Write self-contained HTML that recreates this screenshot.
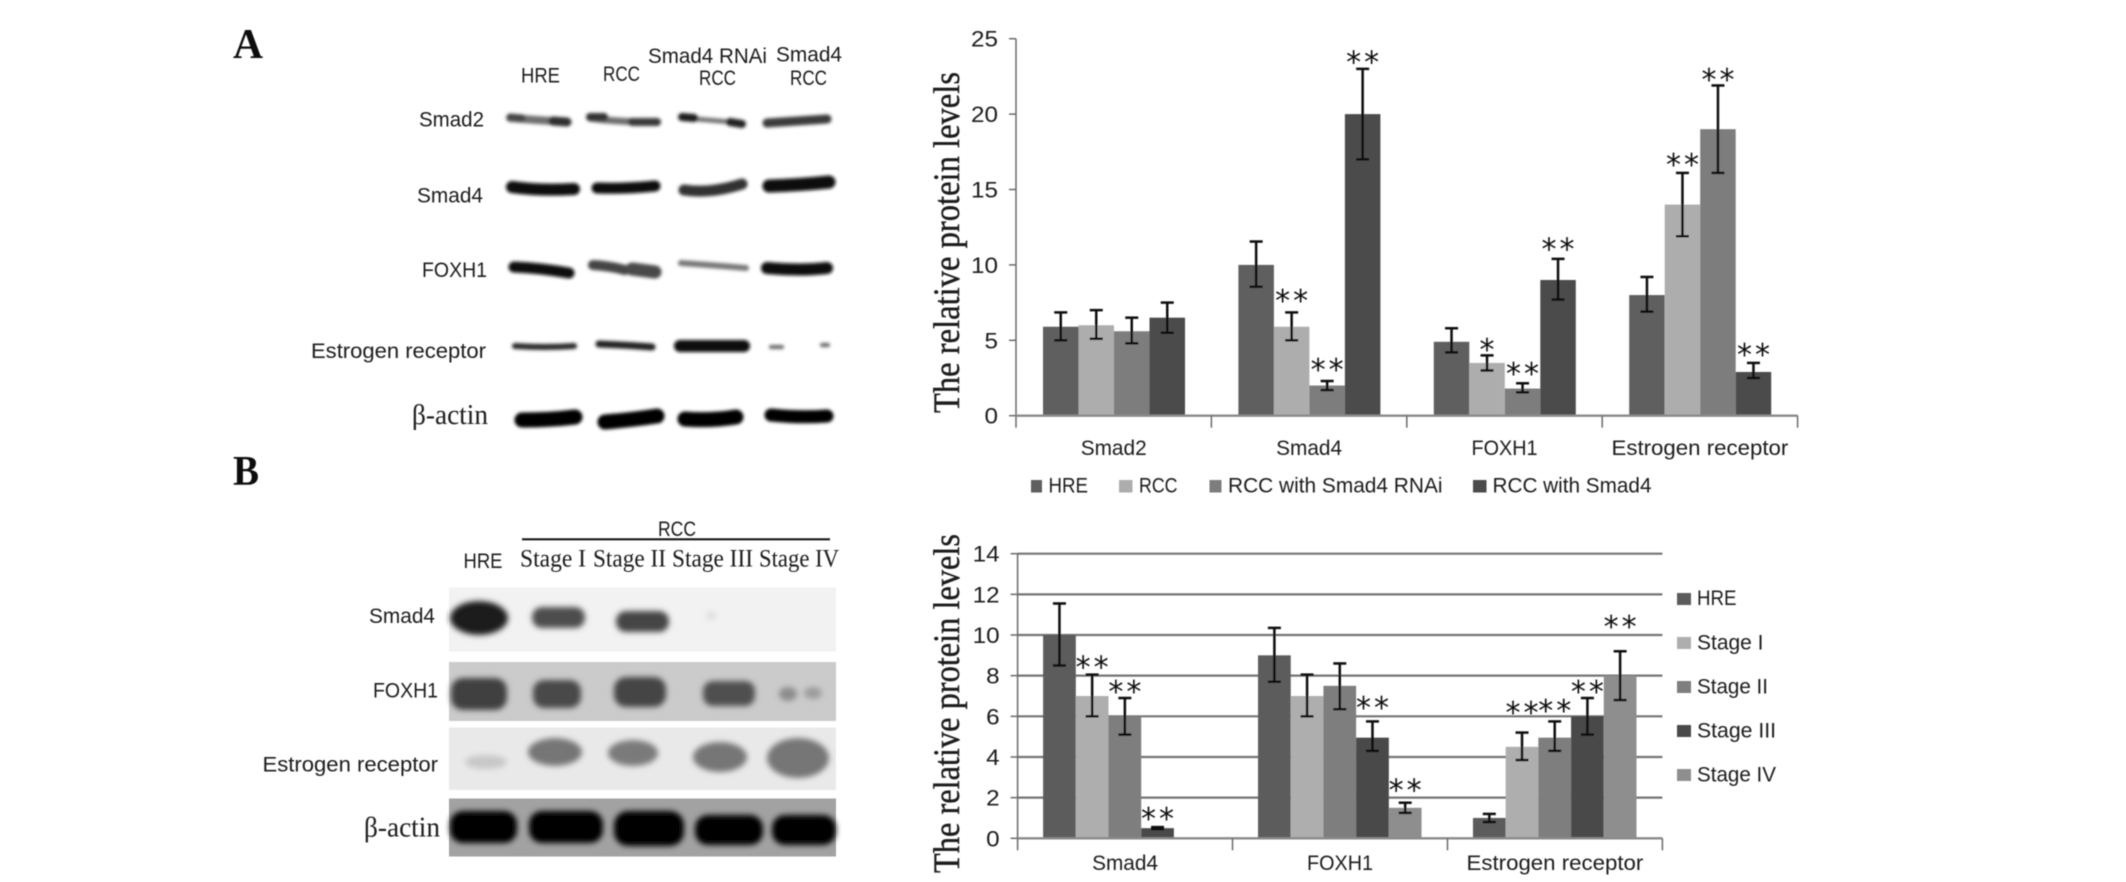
<!DOCTYPE html>
<html>
<head>
<meta charset="utf-8">
<title>Relative protein levels</title>
<style>
html,body{margin:0;padding:0;background:#fff;width:2126px;height:882px;overflow:hidden}
svg{display:block}
.sans{font-family:"Liberation Sans",sans-serif;fill:#1c1c1c}
.serif{font-family:"Liberation Serif",serif;fill:#1c1c1c}
</style>
</head>
<body>
<svg id="figure" xmlns="http://www.w3.org/2000/svg" width="2126" height="882" viewBox="0 0 2126 882">
<defs>
<filter id="soft" filterUnits="userSpaceOnUse" x="0" y="0" width="2126" height="882"><feGaussianBlur stdDeviation="0.5"/></filter>
<filter id="b1" filterUnits="userSpaceOnUse" x="0" y="0" width="2126" height="882"><feGaussianBlur stdDeviation="1.7"/></filter>
<filter id="b2" filterUnits="userSpaceOnUse" x="0" y="0" width="2126" height="882"><feGaussianBlur stdDeviation="3"/></filter>
</defs>
<rect x="0" y="0" width="2126" height="882" fill="#fff"/>
<g id="root" filter="url(#soft)">

<text class="serif" x="233" y="58" font-size="42" font-weight="bold" textLength="30" lengthAdjust="spacingAndGlyphs" style="fill:#111">A</text>
<text class="serif" x="233" y="485" font-size="42" font-weight="bold" textLength="26" lengthAdjust="spacingAndGlyphs" style="fill:#111">B</text>

<g class="sans" font-size="21">
<text x="521" y="82.5" textLength="39" lengthAdjust="spacingAndGlyphs">HRE</text>
<text x="603" y="81" textLength="37" lengthAdjust="spacingAndGlyphs">RCC</text>
<text x="648" y="63" textLength="119" lengthAdjust="spacingAndGlyphs">Smad4 RNAi</text>
<text x="699" y="85" textLength="37" lengthAdjust="spacingAndGlyphs">RCC</text>
<text x="776" y="61.5" textLength="66" lengthAdjust="spacingAndGlyphs">Smad4</text>
<text x="790" y="85" textLength="37" lengthAdjust="spacingAndGlyphs">RCC</text>
</g>
<g class="sans" font-size="21">
<text x="419" y="126.5" textLength="65" lengthAdjust="spacingAndGlyphs">Smad2</text>
<text x="417" y="202.5" textLength="66" lengthAdjust="spacingAndGlyphs">Smad4</text>
<text x="422" y="277" textLength="65" lengthAdjust="spacingAndGlyphs">FOXH1</text>
<text x="311" y="358" textLength="175" lengthAdjust="spacingAndGlyphs">Estrogen receptor</text>
<text class="serif" x="412" y="424" font-size="29" textLength="76" lengthAdjust="spacingAndGlyphs">β-actin</text>
</g>

<g fill="none" stroke-linecap="round">
<g filter="url(#b1)">
<g>
<path d="M510 118 Q535 120 567 122" stroke="#707070" stroke-width="8"/>
<path d="M510 117 L522 118" stroke="#444" stroke-width="7"/>
<path d="M553 121 L567 122" stroke="#2f2f2f" stroke-width="9"/>
</g>
<g>
<path d="M590 118 Q615 122 657 122" stroke="#707070" stroke-width="7"/>
<path d="M590 117 L604 117" stroke="#333" stroke-width="8"/>
<path d="M632 122 L657 122" stroke="#383838" stroke-width="8"/>
</g>
<g>
<path d="M682 118 Q710 120 741 123" stroke="#777" stroke-width="5"/>
<path d="M682 117 L694 118" stroke="#1e1e1e" stroke-width="8"/>
<path d="M730 122 L742 124" stroke="#222" stroke-width="8"/>
</g>
<path d="M767 123 Q795 121 827 119" stroke="#3a3a3a" stroke-width="9"/>
</g>
<g filter="url(#b1)">
<path d="M512 187 Q540 191 574 189" stroke="#0c0c0c" stroke-width="12"/>
<path d="M597 188 Q625 189 655 186" stroke="#111" stroke-width="11"/>
<path d="M684 190 Q710 194 742 184" stroke="#333" stroke-width="11"/>
<path d="M769 186 Q800 185 829 182" stroke="#080808" stroke-width="13"/>
</g>
<g filter="url(#b1)">
<path d="M514 267 Q540 268 569 273" stroke="#0a0a0a" stroke-width="11"/>
<path d="M593 265 Q610 266 625 270" stroke="#444" stroke-width="10"/>
<path d="M632 269 L655 272" stroke="#4a4a4a" stroke-width="13"/>
<path d="M681 263 Q710 265 746 268" stroke="#777" stroke-width="6"/>
<path d="M767 268 Q800 271 827 268" stroke="#0a0a0a" stroke-width="12"/>
</g>
<g filter="url(#b1)">
<path d="M515 346 Q545 348 574 346" stroke="#2c2c2c" stroke-width="6"/>
<path d="M599 344 Q625 345 652 347" stroke="#222" stroke-width="7"/>
<path d="M680 346 L744 346" stroke="#0a0a0a" stroke-width="12"/>
<path d="M771 347 L782 347" stroke="#666" stroke-width="4"/>
<path d="M822 345 L828 345" stroke="#666" stroke-width="4"/>
</g>
<g filter="url(#b1)">
<path d="M522 420 Q550 420 575 417" stroke="#030303" stroke-width="15"/>
<path d="M605 422 Q630 420 657 416" stroke="#030303" stroke-width="15"/>
<path d="M685 419 Q710 421 736 417" stroke="#030303" stroke-width="15"/>
<path d="M771 415 Q800 418 827 416" stroke="#030303" stroke-width="13"/>
</g>
</g>

<g class="sans" font-size="21">
<text x="658" y="536" textLength="38" lengthAdjust="spacingAndGlyphs">RCC</text>
<rect x="522" y="538.3" width="308" height="2" fill="#111"/>
<text x="463.5" y="568" textLength="39" lengthAdjust="spacingAndGlyphs">HRE</text>
<text class="serif" x="520" y="566.5" font-size="25" textLength="66" lengthAdjust="spacingAndGlyphs">Stage I</text>
<text class="serif" x="593" y="566.5" font-size="25" textLength="73" lengthAdjust="spacingAndGlyphs">Stage II</text>
<text class="serif" x="672" y="566.5" font-size="25" textLength="81" lengthAdjust="spacingAndGlyphs">Stage III</text>
<text class="serif" x="759" y="566.5" font-size="25" textLength="80" lengthAdjust="spacingAndGlyphs">Stage IV</text>
<text x="369" y="623" textLength="66" lengthAdjust="spacingAndGlyphs">Smad4</text>
<text x="373" y="697.5" textLength="65" lengthAdjust="spacingAndGlyphs">FOXH1</text>
<text x="262.5" y="771.5" textLength="175.5" lengthAdjust="spacingAndGlyphs">Estrogen receptor</text>
<text class="serif" x="364" y="836.5" font-size="29" textLength="76" lengthAdjust="spacingAndGlyphs">β-actin</text>
</g>

<g>
<rect x="449" y="587.5" width="387" height="64" fill="#f2f2f2"/>
<rect x="449" y="662" width="387" height="59" fill="#cbcbcb"/>
<rect x="449" y="727.5" width="387" height="62.5" fill="#e9e9e9"/>
<rect x="449" y="798.5" width="387" height="58" fill="#a2a2a2"/>
<g filter="url(#b2)">
<ellipse cx="479" cy="618" rx="29" ry="17" fill="#1a1a1a"/>
<rect x="532" y="607" width="53" height="21" rx="10" fill="#4e4e4e"/>
<rect x="616" y="611" width="53" height="21" rx="10" fill="#454545"/>
<ellipse cx="711" cy="615.5" rx="5" ry="4" fill="#dcdcdc"/>
</g>
<g filter="url(#b2)">
<rect x="451" y="678" width="56" height="32" rx="12" fill="#404040"/>
<rect x="533" y="680" width="48" height="28" rx="11" fill="#484848"/>
<rect x="614" y="677" width="52" height="30" rx="12" fill="#444"/>
<rect x="703" y="681" width="52" height="25" rx="10" fill="#505050"/>
<ellipse cx="788" cy="694" rx="9" ry="7" fill="#8c8c8c"/>
<ellipse cx="813" cy="693" rx="9" ry="6" fill="#9c9c9c"/>
</g>
<g filter="url(#b2)">
<ellipse cx="486" cy="762" rx="21" ry="7" fill="#c8c8c8"/>
<ellipse cx="555" cy="752" rx="27" ry="14" fill="#767676"/>
<ellipse cx="633" cy="753" rx="25" ry="13" fill="#7a7a7a"/>
<ellipse cx="720" cy="757" rx="27" ry="15" fill="#767676"/>
<ellipse cx="798" cy="758" rx="31" ry="20" fill="#767676"/>
</g>
<g filter="url(#b2)">
<rect x="450" y="811" width="67" height="32" rx="13" fill="#030303"/>
<rect x="529" y="811" width="74" height="32" rx="13" fill="#030303"/>
<rect x="614" y="811" width="70" height="35" rx="14" fill="#030303"/>
<rect x="695" y="815" width="68" height="30" rx="13" fill="#030303"/>
<rect x="772" y="815" width="64" height="30" rx="13" fill="#030303"/>
</g>
</g>

<g id="chart-a"></g>
<g id="chart-b"></g>
</g>
</svg>

<script>
// ---- Chart A data ----
const aCategories = ["Smad2", "Smad4", "FOXH1", "Estrogen receptor"];
const aSeriesNames = ["HRE", "RCC", "RCC with Smad4 RNAi", "RCC with Smad4"];
const aTicks = [0, 5, 10, 15, 20, 25];
const aHre = [5.9, 10, 4.9, 8];
const aRcc = [6, 5.9, 3.5, 14];
const aRnai = [5.6, 2, 1.8, 19];
const aSmad4 = [6.5, 20, 9, 2.9];
const aHreHigh = [6.85, 11.55, 5.8, 9.2];
const aRccHigh = [7, 6.85, 4, 16.1];
const aRnaiHigh = [6.5, 2.3, 2.15, 21.9];
const aSmad4High = [7.5, 23, 10.4, 3.5];
const aHreLow = [5, 8.55, 4.2, 6.9];
const aRccLow = [5.1, 5, 3, 11.9];
const aRnaiLow = [4.8, 1.7, 1.55, 16.1];
const aSmad4Low = [5.5, 17, 7.7, 2.5];
const aHreStars = ["", "", "", ""];
const aRccStars = ["", "**", "*", "**"];
const aRnaiStars = ["", "**", "**", "**"];
const aSmad4Stars = ["", "**", "**", "**"];
const aRccStarLift = [0, 1.1, 0.7, 0.85];
const aRnaiStarLift = [0, 1.05, 0.95, 0.7];
const aSmad4StarLift = [0, 0.75, 0.95, 0.85];

// ---- Chart B data ----
const bCategories = ["Smad4", "FOXH1", "Estrogen receptor"];
const bSeriesNames = ["HRE", "Stage I", "Stage II", "Stage III", "Stage IV"];
const bTicks = [0, 2, 4, 6, 8, 10, 12, 14];
const bHre = [10, 9, 1];
const bStage1 = [7, 7, 4.5];
const bStage2 = [6, 7.5, 4.95];
const bStage3 = [0.5, 4.95, 6];
const bStage4 = [null, 1.5, 8];
const bHreHigh = [11.55, 10.35, 1.2];
const bStage1High = [8.05, 8.05, 5.2];
const bStage2High = [6.9, 8.6, 5.75];
const bStage3High = [0.55, 5.75, 6.9];
const bStage4High = [null, 1.75, 9.2];
const bHreLow = [8.5, 7.7, 0.8];
const bStage1Low = [6, 6, 3.85];
const bStage2Low = [5.1, 6.35, 4.3];
const bStage3Low = [0.45, 4.3, 5.1];
const bStage4Low = [null, 1.25, 6.8];
const bHreStars = ["", "", ""];
const bStage1Stars = ["**", "", "**"];
const bStage2Stars = ["**", "", "**"];
const bStage3Stars = ["**", "**", "**"];
const bStage4Stars = ["", "**", "**"];
const bStage1StarLift = [0.6, 0, 1.2];
const bStage2StarLift = [0.55, 0, 0.75];
const bStage3StarLift = [0.65, 0.9, 0.55];
const bStage4StarLift = [0, 0.85, 1.45];

const SVGNS = "http://www.w3.org/2000/svg";
function mk(parent, tag, attrs) {
  const el = document.createElementNS(SVGNS, tag);
  for (const k in attrs) el.setAttribute(k, attrs[k]);
  parent.appendChild(el);
  return el;
}
function txt(parent, str, attrs) {
  const el = mk(parent, "text", attrs);
  el.textContent = str;
  return el;
}

function drawChart(cfg) {
  const g = document.getElementById(cfg.id);
  const catW = (cfg.right - cfg.left) / cfg.categories.length;
  const y = v => cfg.y0 - v * cfg.unit;
  const x = (c, s) => cfg.left + c * catW + cfg.margin + s * cfg.barW;
  const yMax = cfg.ticks[cfg.ticks.length - 1];

  // gridlines
  if (cfg.grid) {
    cfg.ticks.forEach(t => {
      if (t === 0) return;
      const l = mk(g, "line", {x1: cfg.left, x2: cfg.right, y1: y(t), y2: y(t), stroke: "#757575", "stroke-width": 2.2});
      
      
    });
  }

  // bars
  cfg.series.forEach((ser, s) => {
    ser.values.forEach((v, c) => {
      if (v === null) return;
      const r = mk(g, "rect", {x: x(c, s), y: y(v), width: cfg.barW, height: cfg.y0 - y(v), fill: ser.color});
      
      
    });
  });

  // axes
  const yAxis = mk(g, "line", {x1: cfg.left, x2: cfg.left, y1: y(yMax), y2: cfg.y0 + 12, stroke: "#6a6a6a", "stroke-width": 1.5});
  
  
  const xAxis = mk(g, "line", {x1: cfg.left, x2: cfg.right, y1: cfg.y0, y2: cfg.y0, stroke: "#8a8a8a", "stroke-width": 2.4});
  
  

  cfg.ticks.forEach(t => {
    const m = mk(g, "line", {x1: cfg.left - 7, x2: cfg.left, y1: y(t), y2: y(t), stroke: "#6a6a6a", "stroke-width": 1.5});
    
    
    const s = String(t);
    const lab = txt(g, s, {x: cfg.left - 18, y: y(t) + 8, class: "sans", "font-size": 22, "text-anchor": "end", textLength: s.length * 13.5, lengthAdjust: "spacingAndGlyphs"});
    
    
  });

  cfg.categories.forEach((cat, c) => {
    const m = mk(g, "line", {x1: cfg.left + (c + 1) * catW, x2: cfg.left + (c + 1) * catW, y1: cfg.y0, y2: cfg.y0 + 12, stroke: "#6a6a6a", "stroke-width": 1.5});
    
    
    const lab = txt(g, cat, {x: cfg.left + (c + 0.5) * catW + cfg.catShift, y: cfg.catBaseline, class: "sans", "font-size": 21, "text-anchor": "middle", textLength: cat.length * (cat.length > 6 ? 10.4 : 13.2), lengthAdjust: "spacingAndGlyphs"});
    
    
  });

  // error bars and significance stars
  cfg.series.forEach((ser, s) => {
    ser.values.forEach((v, c) => {
      if (v === null) return;
      const cx = x(c, s) + cfg.barW / 2;
      const hi = y(ser.high[c]), lo = y(ser.low[c]);
      const stem = mk(g, "line", {x1: cx, x2: cx, y1: hi, y2: lo, stroke: "#0c0c0c", "stroke-width": 2.5});
      
      
      [hi, lo].forEach(cap => {
        const cl = mk(g, "line", {x1: cx - 6.5, x2: cx + 6.5, y1: cap, y2: cap, stroke: "#0c0c0c", "stroke-width": 2.5});
        
        
      });
      const star = ser.stars[c];
      if (star) {
        const centre = y(ser.high[c] + ser.lift[c]);
        const st = txt(g, star, {x: cx, y: centre + 15, "font-size": 30, "text-anchor": "middle", style: "font-family:'DejaVu Sans',sans-serif;fill:#111", textLength: star.length * 16.5, lengthAdjust: "spacing"});
        
        
      }
    });
  });

  // y title
  const title = txt(g, "The relative protein levels", {transform: "translate(" + cfg.titleX + " " + cfg.titleBottom + ") rotate(-90)", class: "serif", "font-size": 37, textLength: cfg.titleLength, lengthAdjust: "spacingAndGlyphs", stroke: "#1c1c1c", "stroke-width": 0.4});
  
  

  // legend
  cfg.legend.forEach((item, i) => {
    const ser = cfg.series[i];
    const sw = mk(g, "rect", {x: item.sx, y: item.sy, width: item.sw, height: item.sh, fill: ser.color});
    
    
    const lab = txt(g, cfg.names[i], {x: item.tx, y: item.ty, class: "sans", "font-size": 21, textLength: item.tw, lengthAdjust: "spacingAndGlyphs"});
    
    
  });
}

drawChart({
  id: "chart-a", left: 1016, right: 1797.6, y0: 415.7, unit: 15.08, margin: 27, barW: 35.5,
  categories: aCategories, names: aSeriesNames, ticks: aTicks, grid: false, catBaseline: 455, catShift: 0,
  titleX: 959, titleBottom: 413, titleLength: 341,
  series: [
    {color: "#5e5e5e", values: aHre, high: aHreHigh, low: aHreLow, stars: aHreStars, lift: [0,0,0,0]},
    {color: "#adadad", values: aRcc, high: aRccHigh, low: aRccLow, stars: aRccStars, lift: aRccStarLift},
    {color: "#7d7d7d", values: aRnai, high: aRnaiHigh, low: aRnaiLow, stars: aRnaiStars, lift: aRnaiStarLift},
    {color: "#4b4b4b", values: aSmad4, high: aSmad4High, low: aSmad4Low, stars: aSmad4Stars, lift: aSmad4StarLift}
  ],
  legend: [
    {sx: 1031, sy: 480, sw: 11, sh: 12.5, tx: 1048.5, ty: 492.5, tw: 39.5},
    {sx: 1119, sy: 480, sw: 13.5, sh: 12.5, tx: 1139, ty: 492.5, tw: 38.5},
    {sx: 1209.5, sy: 480, sw: 12, sh: 12.5, tx: 1228, ty: 492.5, tw: 214.5},
    {sx: 1473, sy: 480, sw: 13.5, sh: 12.5, tx: 1492.5, ty: 492.5, tw: 159}
  ]
});

drawChart({
  id: "chart-b", left: 1017.6, right: 1662.4, y0: 838.3, unit: 20.33, margin: 25.5, barW: 32.7,
  categories: bCategories, names: bSeriesNames, ticks: bTicks, grid: true, catBaseline: 870, catShift: 0,
  titleX: 959, titleBottom: 873, titleLength: 339,
  series: [
    {color: "#5c5c5c", values: bHre, high: bHreHigh, low: bHreLow, stars: bHreStars, lift: [0,0,0]},
    {color: "#aeaeae", values: bStage1, high: bStage1High, low: bStage1Low, stars: bStage1Stars, lift: bStage1StarLift},
    {color: "#7e7e7e", values: bStage2, high: bStage2High, low: bStage2Low, stars: bStage2Stars, lift: bStage2StarLift},
    {color: "#4a4a4a", values: bStage3, high: bStage3High, low: bStage3Low, stars: bStage3Stars, lift: bStage3StarLift},
    {color: "#8e8e8e", values: bStage4, high: bStage4High, low: bStage4Low, stars: bStage4Stars, lift: bStage4StarLift}
  ],
  legend: [
    {sx: 1677, sy: 593, sw: 14, sh: 12, tx: 1697, ty: 605, tw: 39.5},
    {sx: 1677, sy: 637, sw: 14, sh: 12, tx: 1697, ty: 649.5, tw: 66.5},
    {sx: 1677, sy: 681, sw: 14, sh: 12, tx: 1697, ty: 693.5, tw: 71},
    {sx: 1677, sy: 725, sw: 14, sh: 12, tx: 1697, ty: 737.5, tw: 79},
    {sx: 1677, sy: 769, sw: 14, sh: 12, tx: 1697, ty: 781.5, tw: 79}
  ]
});
</script>
</body>
</html>
